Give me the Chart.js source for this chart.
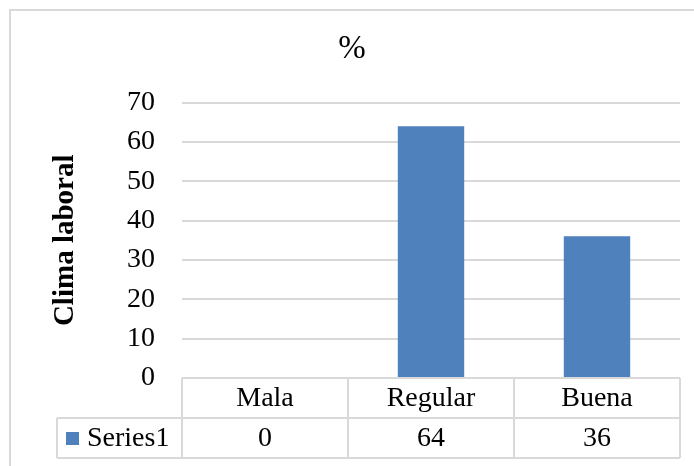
<!DOCTYPE html>
<html>
<head>
<meta charset="utf-8">
<script src="https://cdn.jsdelivr.net/npm/chart.js@4.4.0/dist/chart.umd.min.js"></script>
<style>
    html, body { margin: 0; padding: 0; background: #fff; }
    #wrap { position: relative; width: 694px; height: 466px; }
</style>
</head>
<body>
<div id="wrap"><canvas id="grafico" width="694" height="466"></canvas></div>
<script>
const categorias = ['Mala', 'Regular', 'Buena'];
const valores = [0, 64, 36];
const nomeSerie = 'Series1';
const titulo = '%';
const tituloEixoY = 'Clima laboral';

const fonte = "'Liberation Serif', 'Times New Roman', serif";
const corBarra = '#4F81BD';
const corLinha = '#d9d9d9';

// moldura + tabela de dados embaixo do gráfico
const tabelaDados = {
    id: 'tabelaDados',
    beforeDraw(chart) {
        const ctx = chart.ctx;
        ctx.save();
        ctx.strokeStyle = corLinha;
        ctx.lineWidth = 2;
        ctx.strokeRect(10, 10, 700, 470);
        ctx.restore();
    },
    afterDraw(chart) {
        const ctx = chart.ctx;
        const area = chart.chartArea;
        const xs = chart.scales.x;
        const larg = (area.right - area.left) / categorias.length;
        const alturaLinha = 40;
        const y0 = area.bottom;
        const y1 = y0 + alturaLinha;
        const y2 = y1 + alturaLinha;
        const xLegenda = 57;

        ctx.save();
        ctx.strokeStyle = corLinha;
        ctx.lineWidth = 2;
        ctx.beginPath();
        ctx.moveTo(area.left, y0); ctx.lineTo(area.right, y0);
        ctx.moveTo(xLegenda, y1); ctx.lineTo(area.right, y1);
        ctx.moveTo(xLegenda, y2); ctx.lineTo(area.right, y2);
        ctx.moveTo(xLegenda, y1); ctx.lineTo(xLegenda, y2);
        for (let i = 0; i <= categorias.length; i++) {
            const x = area.left + i * larg;
            ctx.moveTo(x, y0); ctx.lineTo(x, y2);
        }
        ctx.stroke();

        ctx.fillStyle = '#000';
        ctx.font = '28px ' + fonte;
        ctx.textAlign = 'center';
        ctx.textBaseline = 'middle';
        categorias.forEach((c, i) => {
            const cx = xs.getPixelForValue(i);
            ctx.fillText(c, cx, y0 + alturaLinha / 2 + 1);
            ctx.fillText(String(valores[i]), cx, y1 + alturaLinha / 2 + 1);
        });

        // legenda da série
        ctx.fillStyle = corBarra;
        ctx.fillRect(xLegenda + 9, y1 + 14, 13, 13);
        ctx.fillStyle = '#000';
        ctx.textAlign = 'left';
        ctx.fillText(nomeSerie, xLegenda + 30, y1 + alturaLinha / 2 + 1);
        ctx.restore();
    }
};

new Chart(document.getElementById('grafico'), {
    type: 'bar',
    data: {
        labels: categorias,
        datasets: [{
            label: nomeSerie,
            data: valores,
            backgroundColor: corBarra,
            barPercentage: 0.4,
            categoryPercentage: 1
        }]
    },
    options: {
        responsive: false,
        animation: false,
        layout: {
            padding: { left: 24, right: 14, top: 0, bottom: 88 }
        },
        plugins: {
            legend: { display: false },
            tooltip: { enabled: false },
            title: {
                display: true,
                text: titulo,
                color: '#000',
                font: { family: fonte, size: 33, weight: 'normal' },
                padding: { top: 30, bottom: 33 }
            }
        },
        scales: {
            x: {
                display: false,
                offset: true
            },
            y: {
                min: 0,
                max: 70,
                ticks: {
                    stepSize: 10,
                    color: '#000',
                    padding: 27,
                    font: { family: fonte, size: 28 }
                },
                grid: {
                    color: corLinha,
                    lineWidth: 2,
                    drawTicks: false
                },
                border: { display: false },
                title: {
                    display: true,
                    text: tituloEixoY,
                    color: '#000',
                    font: { family: fonte, size: 29, weight: 'bold' },
                    padding: { top: 24, bottom: 0 }
                },
                afterFit(scale) {
                    scale.width = 158;
                }
            }
        }
    },
    plugins: [tabelaDados]
});
</script>
</body>
</html>
